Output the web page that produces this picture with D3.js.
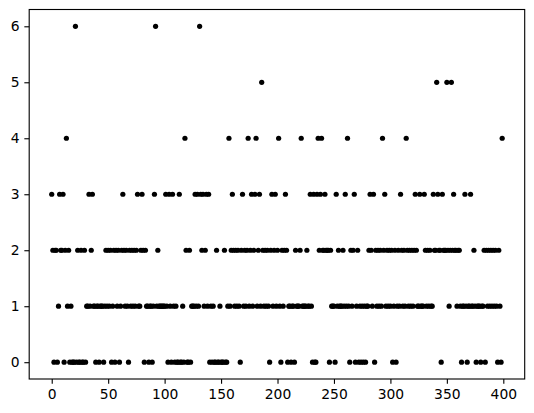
<!DOCTYPE html>
<html><head><meta charset="utf-8">
<script src="https://cdn.jsdelivr.net/npm/d3@7"></script>
<style>html,body{margin:0;padding:0;background:#fff;} svg{display:block;}</style>
</head><body>
<svg id="chart" width="534" height="413"></svg>
<script>
// y value of each point; x is the index 0..399
const yValues = [
3,2,0,2,2,0,1,3,2,2,
3,0,2,4,1,2,0,1,0,0,
0,6,0,2,0,0,2,0,0,2,
0,1,1,3,1,2,3,1,1,0,
1,1,0,1,1,1,0,1,2,1,
2,1,2,0,1,2,0,2,1,2,
0,1,2,3,2,1,2,1,0,2,
1,2,1,2,1,2,3,1,1,2,
3,2,0,2,1,1,0,1,1,0,
1,3,6,1,2,1,1,1,1,1,
1,3,1,0,3,1,0,3,1,0,
1,0,0,3,0,0,1,0,4,2,
0,0,2,0,1,1,1,3,1,3,
1,6,3,2,3,1,2,3,1,3,
0,1,0,1,0,0,2,0,0,1,
0,0,0,2,0,0,1,4,1,2,
3,2,1,2,1,2,1,0,2,3,
1,2,1,2,4,1,2,3,1,2,
3,4,1,2,3,1,5,2,1,2,
1,2,1,0,2,3,1,2,3,1,
2,4,1,0,2,1,2,3,2,0,
1,1,0,1,1,0,2,1,1,1,
2,4,1,1,1,1,2,1,1,3,
1,0,3,0,0,3,4,2,3,4,
2,2,3,2,2,2,0,2,1,1,
1,0,3,1,2,1,1,1,2,1,
3,1,4,1,0,2,1,2,3,0,
1,2,0,1,0,1,0,1,0,1,
1,2,3,2,1,3,0,2,1,2,
1,2,1,4,2,3,1,2,1,2,
1,2,0,1,2,0,1,2,1,3,
2,1,2,1,4,2,1,2,1,2,
1,2,3,2,1,1,3,1,1,1,
3,2,1,2,1,2,1,1,3,2,
2,5,3,2,2,0,3,2,2,2,
5,2,1,2,5,2,3,2,2,1,
2,2,1,0,1,1,3,1,0,1,
1,3,1,1,2,1,0,1,1,1,
0,1,1,2,0,2,1,2,1,2,
1,2,1,2,1,0,2,1,0,4
];
const xTickValues = [0, 50, 100, 150, 200, 250, 300, 350, 400];
const yTickValues = [0, 1, 2, 3, 4, 5, 6];

(function () {
  const pLeft = 29.2, pRight = 524.7, pTop = 9.5, pBottom = 379;
  const pt = 100 / 72;
  const svg = d3.select('#chart');
  const x = d3.scaleLinear().domain([-19.95, 418.95]).range([pLeft, pRight]);
  const y = d3.scaleLinear().domain([-0.3, 6.3]).range([pBottom, pTop]);
  const font = 'DejaVu Sans, sans-serif';
  const fs = 10 * pt;

  // points
  svg.append('g').selectAll('circle')
    .data(yValues)
    .join('circle')
    .attr('cx', (d, i) => x(i))
    .attr('cy', d => y(d))
    .attr('r', 2.6)
    .attr('fill', '#000');

  // axes
  const xAxis = d3.axisBottom(x).tickValues(xTickValues).tickSize(3.5 * pt).tickPadding(3.5 * pt).tickFormat(d3.format('d'));
  const gx = svg.append('g').attr('transform', `translate(0,${pBottom})`).call(xAxis);
  const yAxis = d3.axisLeft(y).tickValues(yTickValues).tickSize(3.5 * pt).tickPadding(3.5 * pt).tickFormat(d3.format('d'));
  const gy = svg.append('g').attr('transform', `translate(${pLeft},0)`).call(yAxis);
  [gx, gy].forEach(g => {
    g.select('.domain').remove();
    g.selectAll('.tick line').attr('stroke', '#000').attr('stroke-width', 0.8 * pt);
    g.selectAll('.tick text').attr('fill', '#000').style('font-family', font).style('font-size', fs + 'px');
  });

  // frame
  svg.append('rect')
    .attr('x', pLeft).attr('y', pTop)
    .attr('width', pRight - pLeft).attr('height', pBottom - pTop)
    .attr('fill', 'none').attr('stroke', '#000').attr('stroke-width', 0.8 * pt);
})();
</script>
</body></html>
